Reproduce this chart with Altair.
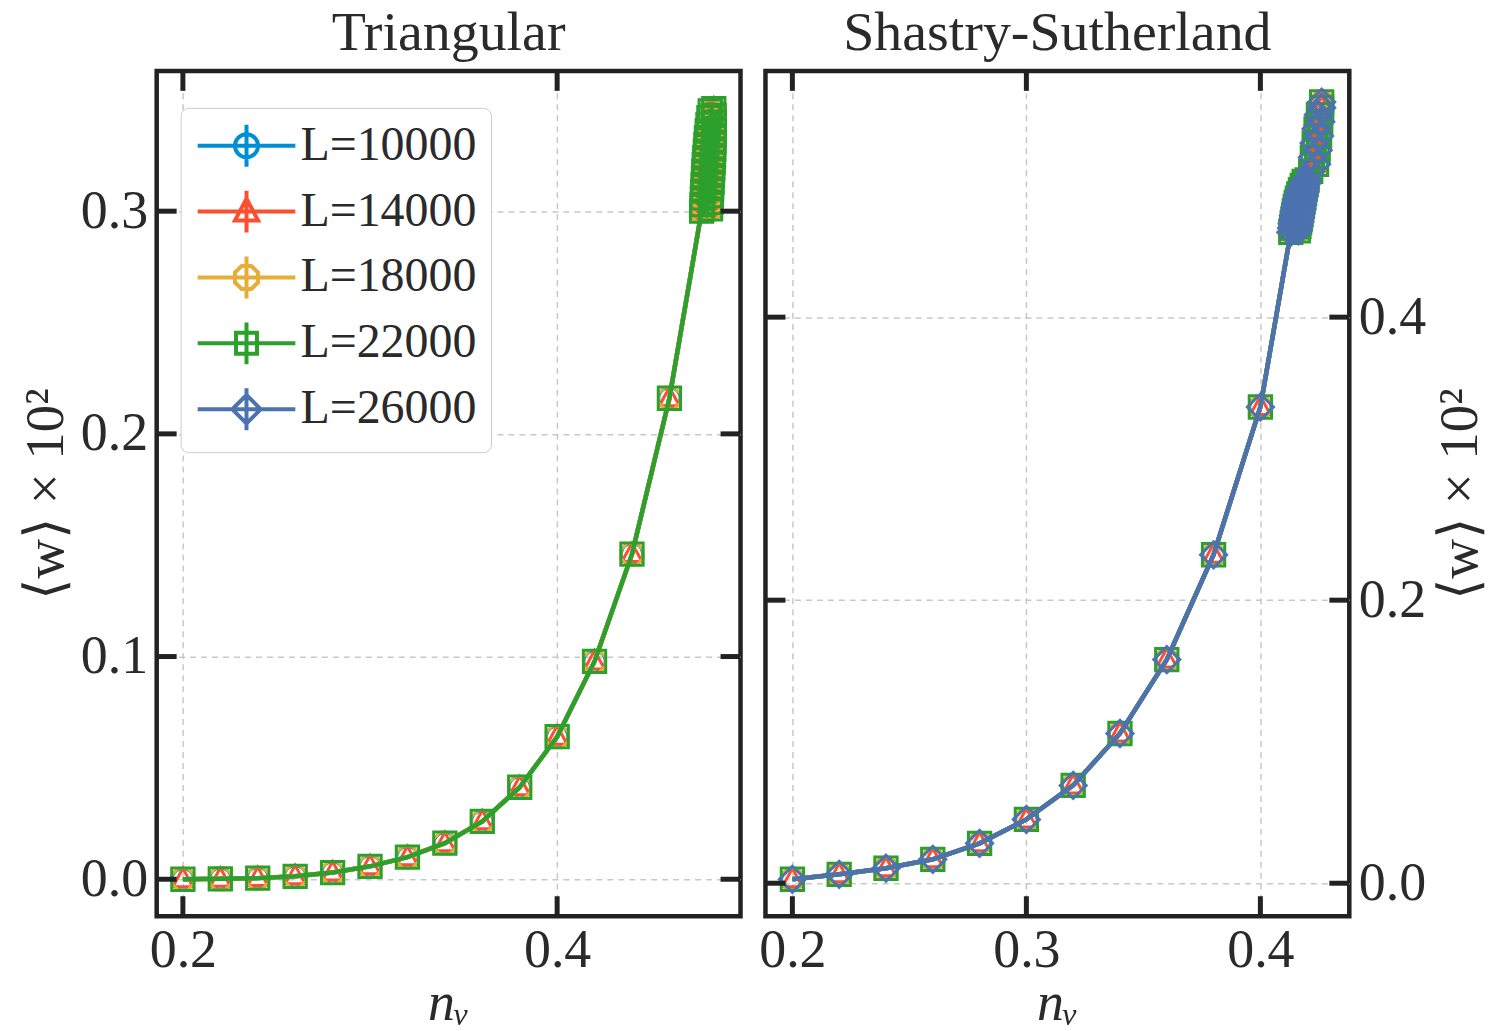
import altair as alt
import pandas as pd

FONT = "Liberation Serif"
TXT = "#2a2a2a"
FRAME = "#222222"

# ---------------- data ----------------
L_labels = ["L=10000", "L=14000", "L=18000", "L=22000", "L=26000"]
colors = ["#008fd5", "#fc4f30", "#e5ae38", "#2ca02c", "#4c72b0"]

OCT = "M-0.41,-1L0.41,-1L1,-0.41L1,0.41L0.41,1L-0.41,1L-1,0.41L-1,-0.41Z"
TRI = "M0,-1.1L1,0.75L-1,0.75Z"
shapes = ["circle", TRI, OCT, "square", "diamond"]
msizes = [460, 400, 480, 500, 680]

# legend glyphs: line + vertical error bar + marker
legend_paths = [
    "M-2.33,0H2.33M0,-1V1M0.55,0A0.55,0.55 0 1 1 -0.55,0A0.55,0.55 0 1 1 0.55,0",
    "M-2.33,0H2.33M0,-1V1M0,-0.62L0.55,0.42L-0.55,0.42Z",
    "M-2.33,0H2.33M0,-1V1M-0.23,-0.55L0.23,-0.55L0.55,-0.23L0.55,0.23L0.23,0.55L-0.23,0.55L-0.55,0.23L-0.55,-0.23Z",
    "M-2.33,0H2.33M0,-1V1M-0.5,-0.5H0.5V0.5H-0.5Z",
    "M-2.33,0H2.33M0,-1V1M0,-0.68L0.68,0L0,0.68L-0.68,0Z",
]

tri_nv = [0.20, 0.22, 0.24, 0.26, 0.28, 0.30, 0.32, 0.34, 0.36, 0.38, 0.40, 0.42, 0.44, 0.46,
          0.4772, 0.4820, 0.4774, 0.4822, 0.4776, 0.4824, 0.4778, 0.4826, 0.4780, 0.4828,
          0.4782, 0.4830, 0.4784, 0.4832, 0.4786, 0.4834, 0.4789, 0.4836, 0.4792, 0.4837,
          0.4795, 0.4838, 0.4798, 0.4839, 0.4802, 0.4840, 0.4806, 0.4840, 0.4811, 0.4839,
          0.4818, 0.4837]
tri_w = [0.0000, 0.0002, 0.0005, 0.0013, 0.0030, 0.0058, 0.0099, 0.0162, 0.0260, 0.0413,
         0.0640, 0.0978, 0.1460, 0.2160,
         0.300, 0.301, 0.303, 0.304, 0.306, 0.307, 0.309, 0.310, 0.312, 0.313,
         0.315, 0.316, 0.318, 0.319, 0.321, 0.322, 0.324, 0.325, 0.327, 0.328,
         0.330, 0.331, 0.333, 0.334, 0.336, 0.337, 0.339, 0.340, 0.342, 0.343,
         0.345, 0.346]
tri_series = 4

ss_nv = [0.20, 0.22, 0.24, 0.26, 0.28, 0.30, 0.32, 0.34, 0.36, 0.38, 0.40,
         0.4130, 0.4162, 0.4133, 0.4165, 0.4136, 0.4168, 0.4139, 0.4171, 0.4142, 0.4174,
         0.4145, 0.4177, 0.4149, 0.4180, 0.4153, 0.4183, 0.4158, 0.4186, 0.4164, 0.4189,
         0.4171, 0.4192, 0.4179, 0.4196, 0.4187, 0.4200,
         0.4215, 0.4240, 0.4222, 0.4247, 0.4230, 0.4253, 0.4238, 0.4258, 0.4248, 0.4262, 0.4262]
ss_w = [0.0028, 0.0063, 0.0106, 0.0169, 0.0282, 0.0451, 0.0691, 0.1058, 0.1580, 0.2321, 0.3365,
        0.460, 0.461, 0.463, 0.464, 0.466, 0.467, 0.469, 0.470, 0.472, 0.473,
        0.475, 0.476, 0.478, 0.479, 0.481, 0.482, 0.484, 0.485, 0.487, 0.488,
        0.490, 0.491, 0.493, 0.494, 0.496, 0.497,
        0.503, 0.508, 0.513, 0.518, 0.523, 0.528, 0.533, 0.538, 0.543, 0.548, 0.552]
ss_series = 5

W, H = 585, 847
TICK = 20


def make_legend():
    return alt.Legend(
        orient="none", legendX=24, legendY=37, title=None,
        labelFont=FONT, labelFontSize=48, labelColor=TXT, labelLimit=400,
        symbolSize=1764, symbolStrokeWidth=4, symbolOpacity=1,
        symbolOffset=28, labelOffset=30, rowPadding=8,
        padding=14, strokeColor="#cccccc", fillColor="white",
        cornerRadius=8)


def panel(nv, w, nseries, xdom, ydom, xticks, yticks_lbl, yticks_all, title, yorient, legend):
    df = pd.DataFrame({"nv": nv, "w": w, "i": list(range(len(nv)))})
    xs = alt.Scale(domain=xdom, nice=False, zero=False)
    ys = alt.Scale(domain=ydom, nice=False, zero=False)

    xaxis = alt.Axis(values=xticks, format=".1f", title="nᵥ", grid=True, ticks=False,
                     domain=False, labelPadding=7, titlePadding=0,
                     titleFontStyle="italic", titleFontSize=54)
    yargs = dict(values=yticks_lbl, format=".1f", title="⟨w⟩ × 10²", grid=True, ticks=False,
                 domain=False, labelPadding=9, titlePadding=6, orient=yorient,
                 titleAngle=270)
    if yorient == "right":
        yargs["titleBaseline"] = "top"
        yargs["titlePadding"] = 8
    yaxis = alt.Axis(**yargs)

    def X(f):
        return alt.X(f, scale=xs, axis=xaxis)

    def Y(f):
        return alt.Y(f, scale=ys, axis=yaxis)

    layers = []
    dfx = pd.DataFrame({"t": xticks})
    dfy = pd.DataFrame({"t": yticks_all})
    tick_style = dict(color=FRAME, strokeWidth=5, strokeCap="butt")

    for k in range(nseries):
        layers.append(alt.Chart(df).mark_line(color=colors[k], strokeWidth=4.5).encode(
            x=X("nv:Q"), y=Y("w:Q"), order="i:Q"))
        layers.append(alt.Chart(df).mark_point(
            shape=shapes[k], size=msizes[k], filled=False, color=colors[k],
            strokeWidth=3, opacity=1).encode(x=X("nv:Q"), y=Y("w:Q")))

    # inward ticks on all four sides
    layers.append(alt.Chart(dfx).mark_rule(**tick_style).encode(
        x=X("t:Q"), y=alt.value(H - TICK), y2=alt.value(H)))
    layers.append(alt.Chart(dfx).mark_rule(**tick_style).encode(
        x=X("t:Q"), y=alt.value(0), y2=alt.value(TICK)))
    layers.append(alt.Chart(dfy).mark_rule(**tick_style).encode(
        y=Y("t:Q"), x=alt.value(0), x2=alt.value(TICK)))
    layers.append(alt.Chart(dfy).mark_rule(**tick_style).encode(
        y=Y("t:Q"), x=alt.value(W - TICK), x2=alt.value(W)))

    if legend:
        dl = pd.DataFrame({"L": L_labels})
        layers.append(alt.Chart(dl).mark_point(filled=False, opacity=0, size=10).encode(
            x=alt.value(W / 2), y=alt.value(H / 2),
            color=alt.Color("L:N", scale=alt.Scale(domain=L_labels, range=colors),
                            legend=make_legend()),
            shape=alt.Shape("L:N", scale=alt.Scale(domain=L_labels, range=legend_paths),
                            legend=make_legend()),
        ))

    return alt.layer(*layers).properties(
        width=W, height=H,
        title=alt.TitleParams(title, fontSize=56, font=FONT, fontWeight="normal",
                              color=TXT, offset=6))


left = panel(tri_nv, tri_w, tri_series, [0.186, 0.498], [-0.0166, 0.363],
             [0.2, 0.4], [0.0, 0.1, 0.2, 0.3], [0.0, 0.1, 0.2, 0.3],
             "Triangular", "left", True)
right = panel(ss_nv, ss_w, ss_series, [0.1885, 0.438], [-0.0233, 0.574],
              [0.2, 0.3, 0.4], [0.0, 0.2, 0.4], [0.0, 0.2, 0.4],
              "Shastry-Sutherland", "right", False)

chart = alt.hconcat(left, right, spacing=10).properties(
    padding={"left": 16, "top": 2, "right": 10, "bottom": 0}
).configure(font=FONT, background="white").configure_view(
    stroke=FRAME, strokeWidth=4.5
).configure_axis(
    labelFont=FONT, titleFont=FONT, labelFontSize=54, titleFontSize=55,
    labelColor=TXT, titleColor=TXT, titleFontWeight="normal",
    gridColor="#c8c8c8", gridWidth=1.5, gridDash=[6, 5]
)

chart.save("out.html", embed_options={"renderer": "svg", "actions": False})
